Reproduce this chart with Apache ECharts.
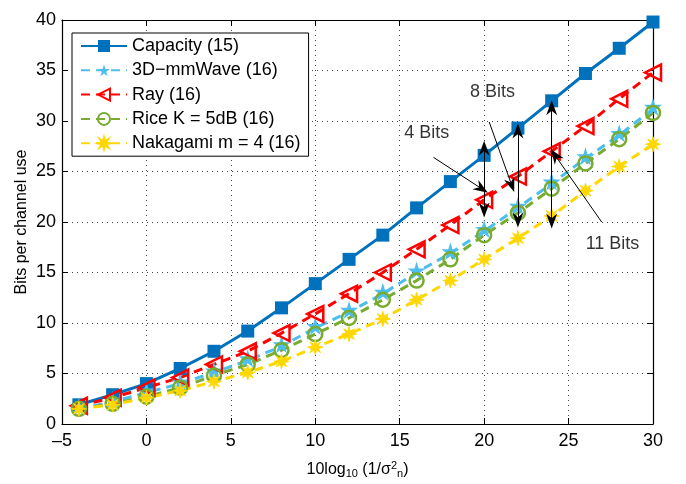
<!DOCTYPE html>
<html>
<head>
<meta charset="utf-8">
<script src="https://cdn.jsdelivr.net/npm/echarts@6/dist/echarts.min.js"></script>
<style>
  html, body { margin: 0; padding: 0; background: #fff; }
  #chart { width: 686px; height: 484px; }
</style>
</head>
<body>
<div id="chart"></div>
<script>
// x values (dB)
const snr = [-4, -2, 0, 2, 4, 6, 8, 10, 12, 14, 16, 18, 20, 22, 24, 26, 28, 30];

// bits per channel use
const capacity = [1.9, 2.9, 4.0, 5.5, 7.2, 9.2, 11.5, 13.9, 16.3, 18.7, 21.4, 24.0, 26.6, 29.3, 32.0, 34.7, 37.2, 39.8];
const mmWave   = [1.5, 2.2, 3.1, 4.0, 5.1, 6.3, 7.7, 9.5, 11.1, 12.9, 15.0, 16.9, 19.1, 21.4, 23.8, 26.3, 28.6, 31.2];
const ray      = [1.8, 2.6, 3.6, 4.6, 5.9, 7.2, 9.0, 10.9, 12.9, 15.0, 17.3, 19.7, 22.2, 24.5, 27.0, 29.5, 32.2, 34.8];
const rice     = [1.5, 2.0, 2.7, 3.6, 4.8, 5.9, 7.3, 8.9, 10.5, 12.3, 14.2, 16.3, 18.7, 20.9, 23.3, 25.8, 28.2, 30.8];
const nakagami = [1.5, 1.9, 2.6, 3.3, 4.2, 5.1, 6.2, 7.6, 8.9, 10.4, 12.3, 14.2, 16.3, 18.4, 20.6, 23.1, 25.5, 27.7];

const names = ['Capacity (15)', '3D\u2212mmWave (16)', 'Ray (16)', 'Rice K = 5dB (16)', 'Nakagami m = 4 (16)'];

// annotations: gap arrows [x, top, bottom], pointer lines [x0, y0, x1, y1], texts [x, y, text]
const gapArrows = [[20, 27.3, 21.2], [22, 29.0, 20.2], [24, 31.3, 20.1]];
const pointers = [[17.0, 26.4, 19.85, 23.3], [20.3, 29.9, 21.63, 23.66], [26.96, 20.0, 24.2, 26.6]];
const bitLabels = [[16.6, 28.8, '4 Bits'], [20.5, 32.9, '8 Bits'], [27.6, 17.8, '11 Bits']];

const FONT = 'Liberation Sans, Arial, Helvetica, sans-serif';
const starPath = 'path://M50,0L61,35L98,35L68,57L79,91L50,70L21,91L32,57L2,35L39,35Z';
const astPath = 'path://M10,0L11.6,6.3L17.07,2.93L13.7,8.4L20,10L13.7,11.6L17.07,17.07L11.6,13.7L10,20L8.4,13.7L2.93,17.07L6.3,11.6L0,10L6.3,8.4L2.93,2.93L8.4,6.3Z';
const arrowHead = 'path://M6,0L12,16L6,11L0,16Z';
const headSize = [11, 15];

const pair = ys => snr.map((x, i) => [x, ys[i]]);
const dash = [9, 6];

const chart = echarts.init(document.getElementById('chart'));

const axisBase = {
  axisLine: { onZero: false, show: true, lineStyle: { color: '#000', width: 1.2 } },
  axisTick: { show: true, inside: true, length: 6, lineStyle: { color: '#000' } }
};
const gridLine = { show: true, lineStyle: { color: '#444', type: [1, 4], width: 1 } };

const option = {
  animation: false,
  textStyle: { fontFamily: FONT },
  grid: { left: 62, right: 33, top: 20, bottom: 56 },
  legend: {
    data: names,
    orient: 'vertical',
    left: 72,
    top: 33,
    padding: [4, 8, 4, 8],
    itemWidth: 46,
    itemHeight: 15,
    itemGap: 6.3,
    borderColor: '#000',
    borderWidth: 1,
    backgroundColor: '#fff',
    textStyle: { fontSize: 18, color: '#000', fontFamily: FONT, lineHeight: 18 }
  },
  xAxis: [Object.assign({
    type: 'value', min: -5, max: 30, interval: 5,
    name: '10log{sub|10} (1/\u03c3{sup|2}{sub|n})',
    nameLocation: 'middle', nameGap: 36,
    nameTextStyle: {
      fontSize: 16, color: '#000', fontFamily: FONT,
      rich: {
        sub: { fontSize: 11, verticalAlign: 'bottom', padding: [8, 0, 0, 0], color: '#000', fontFamily: FONT },
        sup: { fontSize: 11, verticalAlign: 'top', padding: [0, 0, 8, 0], color: '#000', fontFamily: FONT }
      }
    },
    axisLabel: { fontSize: 18, color: '#000', margin: 8, formatter: v => String(v).replace('-', '\u2013') },
    splitLine: gridLine
  }, axisBase), Object.assign({
    type: 'value', min: -5, max: 30, interval: 5, position: 'top',
    axisLabel: { show: false }, splitLine: { show: false }
  }, axisBase)],
  yAxis: [Object.assign({
    type: 'value', min: 0, max: 40, interval: 5,
    name: 'Bits per channel use',
    nameLocation: 'middle', nameGap: 32, nameRotate: 90, nameMoveOverlap: false,
    nameTextStyle: { fontSize: 16, color: '#000', fontFamily: FONT },
    axisLabel: { fontSize: 18, color: '#000', margin: 6 },
    splitLine: gridLine
  }, axisBase), Object.assign({
    type: 'value', min: 0, max: 40, interval: 5, position: 'right',
    axisLabel: { show: false }, splitLine: { show: false }
  }, axisBase)],
  series: [
    {
      name: names[0], type: 'line', data: pair(capacity),
      symbol: 'rect', symbolSize: 13,
      itemStyle: { color: '#0072BD' },
      lineStyle: { color: '#0072BD', width: 3 }
    },
    {
      name: names[1], type: 'line', data: pair(mmWave),
      symbol: starPath, symbolSize: 18, symbolOffset: [0, -2],
      itemStyle: { color: '#4DBEEE' },
      lineStyle: { color: '#4DBEEE', width: 3, type: dash }
    },
    {
      name: names[2], type: 'line', data: pair(ray),
      symbol: 'triangle', symbolSize: 16, symbolRotate: 90,
      itemStyle: { color: 'rgba(255,255,255,0)', borderColor: '#FF0000', borderWidth: 2.5 },
      lineStyle: { color: '#FF0000', width: 3, type: dash }
    },
    {
      name: names[3], type: 'line', data: pair(rice),
      symbol: 'circle', symbolSize: 14,
      itemStyle: { color: 'rgba(255,255,255,0)', borderColor: '#77AC30', borderWidth: 2.5 },
      lineStyle: { color: '#77AC30', width: 3, type: dash }
    },
    {
      name: names[4], type: 'line', data: pair(nakagami),
      symbol: astPath, symbolSize: 15,
      itemStyle: { color: '#FFD700', borderColor: '#FFD700', borderWidth: 1 },
      lineStyle: { color: '#FFD700', width: 3, type: dash }
    },
    {
      name: 'annot', type: 'scatter', symbolSize: 0, silent: true, z: 10,
      data: bitLabels,
      label: {
        show: true, position: 'inside', formatter: p => p.value[2],
        fontSize: 18, color: '#000', fontFamily: FONT
      },
      markLine: {
        silent: true,
        animation: false,
        label: { show: false },
        lineStyle: { color: '#000', width: 1, type: 'solid' },
        emphasis: { disabled: true },
        data: gapArrows.map(a => [
          { coord: [a[0], a[1]], symbol: arrowHead, symbolSize: headSize },
          { coord: [a[0], a[2]], symbol: arrowHead, symbolSize: headSize }
        ]).concat(pointers.map(p => [
          { coord: [p[0], p[1]], symbol: 'none' },
          { coord: [p[2], p[3]], symbol: arrowHead, symbolSize: headSize }
        ]))
      }
    }
  ]
};

chart.setOption(option);
</script>
</body>
</html>
